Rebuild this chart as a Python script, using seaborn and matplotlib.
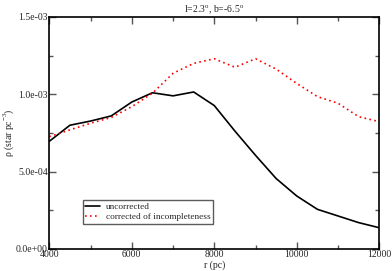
import matplotlib
matplotlib.use("Agg")
import matplotlib.pyplot as plt
from matplotlib.ticker import MultipleLocator, FuncFormatter
import seaborn as sns
import pandas as pd

r_pc = [4000, 4500, 5000, 5500, 6000, 6500, 7000, 7500, 8000, 8500, 9000, 9500,
        10000, 10500, 11000, 11500, 12000]
uncorrected = [6.96e-4, 8.0e-4, 8.27e-4, 8.6e-4, 9.5e-4, 1.01e-3, 9.9e-4, 1.015e-3,
               9.27e-4, 7.62e-4, 6.05e-4, 4.55e-4, 3.42e-4, 2.56e-4, 2.13e-4, 1.70e-4, 1.37e-4]
corrected = [7.26e-4, 7.7e-4, 8.13e-4, 8.5e-4, 9.2e-4, 1.007e-3, 1.136e-3, 1.2e-3,
             1.23e-3, 1.175e-3, 1.23e-3, 1.163e-3, 1.07e-3, 9.85e-4, 9.42e-4, 8.55e-4, 8.23e-4]
series_names = ["uncorrected", "corrected of incompleteness"]
title = "l=2.3$^{\\mathrm{o}}$, b=-6.5$^{\\mathrm{o}}$"
xlabel = "r (pc)"
ylabel = "ρ (star pc$^{-3}$)"

sns.set_theme(style="ticks")
plt.rcParams["font.family"] = ["Liberation Serif", "DejaVu Serif"]
plt.rcParams["mathtext.fontset"] = "custom"
plt.rcParams["mathtext.rm"] = "Liberation Serif"

df = pd.DataFrame({
    "r": r_pc * 2,
    "rho": uncorrected + corrected,
    "series": [series_names[0]] * len(r_pc) + [series_names[1]] * len(r_pc),
})

fig = plt.figure(figsize=(3.92, 2.71), dpi=100)
ax = fig.add_axes([0.1258, 0.0815, 0.8418, 0.8558])

sns.lineplot(data=df[df.series == series_names[0]], x="r", y="rho", ax=ax,
             color="black", linewidth=1.2, label=series_names[0])
sns.lineplot(data=df[df.series == series_names[1]], x="r", y="rho", ax=ax,
             color="red", linewidth=1.2, linestyle=(0, (1, 2)), label=series_names[1])

ax.set_xlim(4000, 12000)
ax.set_ylim(0, 1.5e-3)
ax.xaxis.set_major_locator(MultipleLocator(2000))
ax.xaxis.set_minor_locator(MultipleLocator(1000))
ax.yaxis.set_major_locator(MultipleLocator(5e-4))
ax.yaxis.set_minor_locator(MultipleLocator(2.5e-4))
ax.yaxis.set_major_formatter(FuncFormatter(lambda v, p: "%.1e" % v))
ax.tick_params(which="both", direction="in", top=True, right=True, labelsize=7,
               color="#555555", width=1, pad=1)
ax.tick_params(which="major", length=5)
ax.tick_params(which="minor", length=3)
for s in ax.spines.values():
    s.set_linewidth(1.2)
    s.set_color("black")

ax.set_title(title, fontsize=7, pad=3)
ax.set_xlabel(xlabel, fontsize=7, labelpad=1)
ax.set_ylabel(ylabel, fontsize=7)
ax.yaxis.set_label_coords(-0.101, 0.5)

leg = ax.legend(loc="lower left", bbox_to_anchor=(0.101, 0.107), fontsize=6.7,
                frameon=True, fancybox=False, edgecolor="#333333",
                borderpad=0.3, handlelength=1.6, handletextpad=0.6,
                labelspacing=0.15, borderaxespad=0)
leg.get_frame().set_linewidth(1)

fig.savefig("out.png", dpi=100)
